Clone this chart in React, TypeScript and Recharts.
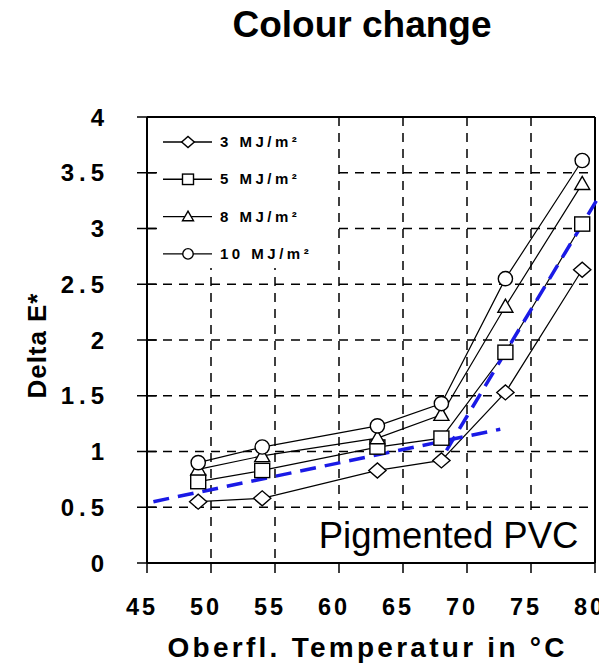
import React from 'react';
import {
  LineChart,
  Line,
  XAxis,
  YAxis,
  CartesianGrid,
  ReferenceLine,
  ReferenceArea,
  Legend,
} from 'recharts';

// Surface temperature (°C) of the test specimens
const temperatures = [49, 54, 63, 68, 73, 79];

// Delta E* colour difference per radiant exposure
const dose3 = [0.55, 0.58, 0.83, 0.92, 1.53, 2.63];
const dose5 = [0.73, 0.83, 1.04, 1.12, 1.89, 3.04];
const dose8 = [0.84, 0.96, 1.12, 1.33, 2.3, 3.4];
const dose10 = [0.9, 1.04, 1.23, 1.43, 2.55, 3.61];

const seriesNames = ['3 MJ/m²', '5 MJ/m²', '8 MJ/m²', '10 MJ/m²'];
const seriesShapes = ['diamond', 'square', 'triangle', 'circle'];
const seriesKeys = ['d3', 'd5', 'd8', 'd10'];

const xTicks = [45, 50, 55, 60, 65, 70, 75, 80];
const yTicks = [0, 0.5, 1, 1.5, 2, 2.5, 3, 3.5, 4];

// Two trend lines marking the change in slope
const trendLow = [
  { x: 45.5, y: 0.55 },
  { x: 72.6, y: 1.2 },
];
const trendHigh = [
  { x: 68.4, y: 1.01 },
  { x: 81, y: 3.42 },
];

const rows = temperatures.map((t, i) => ({
  t,
  d3: dose3[i],
  d5: dose5[i],
  d8: dose8[i],
  d10: dose10[i],
}));

const FONT = '"Liberation Sans", Arial, sans-serif';
const BLUE = '#1a1ae6';

type MarkerProps = { shape: string; cx: number; cy: number; s: number };

function Marker({ shape, cx, cy, s }: MarkerProps) {
  const common = { fill: '#fff', stroke: '#000', strokeWidth: 1.4 };
  if (shape === 'diamond') {
    const w = s * 1.15;
    return (
      <polygon
        points={`${cx - w},${cy} ${cx},${cy - s} ${cx + w},${cy} ${cx},${cy + s}`}
        {...common}
      />
    );
  }
  if (shape === 'square') {
    return <rect x={cx - s} y={cy - s * 0.95} width={2 * s} height={1.9 * s} {...common} />;
  }
  if (shape === 'triangle') {
    return (
      <polygon
        points={`${cx},${cy - s} ${cx + s},${cy + s * 0.75} ${cx - s},${cy + s * 0.75}`}
        {...common}
      />
    );
  }
  return <circle cx={cx} cy={cy} r={s * 0.95} {...common} />;
}

const makeDot = (shape: string) => (props: any) => {
  const { cx, cy, index } = props;
  if (cx == null || cy == null) return <g key={`${shape}-${index}`} />;
  return (
    <g key={`${shape}-${index}`}>
      <Marker shape={shape} cx={cx} cy={cy} s={7.5} />
    </g>
  );
};

const XTick = (props: any) => {
  const { x, y, payload } = props;
  return (
    <text
      x={x - 5}
      y={y + 40}
      textAnchor="middle"
      fontFamily={FONT}
      fontWeight="bold"
      fontSize={23.5}
      letterSpacing={3}
      fill="#000"
    >
      {payload.value}
    </text>
  );
};

// Tick labels on the value axis, plus the short inner half of each tick mark
const YTick = (props: any) => {
  const { x, y, payload } = props;
  return (
    <g>
      <line x1={x + 10} x2={x + 20} y1={y} y2={y} stroke="#000" strokeWidth={1.5} />
      <text
        x={x - 28}
        y={y + 8.5}
        textAnchor="end"
        fontFamily={FONT}
        fontWeight="bold"
        fontSize={24}
        letterSpacing={5}
        fill="#000"
      >
        {payload.value}
      </text>
    </g>
  );
};

const XTitle = (props: any) => {
  const { viewBox } = props;
  return (
    <text
      x={viewBox.x + viewBox.width / 2 - 5}
      y={viewBox.y + 94}
      textAnchor="middle"
      fontFamily={FONT}
      fontWeight="bold"
      fontSize={28}
      textLength={397}
      lengthAdjust="spacing"
      fill="#000"
    >
      Oberfl. Temperatur in °C
    </text>
  );
};

const YTitle = (props: any) => {
  const { viewBox } = props;
  const cx = viewBox.x + 29;
  const cy = viewBox.y + viewBox.height / 2 + 6;
  return (
    <text
      x={cx}
      y={cy}
      transform={`rotate(-90 ${cx} ${cy})`}
      textAnchor="middle"
      dominantBaseline="central"
      fontFamily={FONT}
      fontWeight="bold"
      fontSize={26}
      textLength={105}
      lengthAdjust="spacing"
      fill="#000"
    >
      Delta E*
    </text>
  );
};

const PvcLabel = (props: any) => {
  const { viewBox } = props;
  return (
    <text
      x={viewBox.x + viewBox.width - 14}
      y={viewBox.y + viewBox.height - 12}
      textAnchor="end"
      fontFamily={FONT}
      fontSize={36.5}
      fill="#000"
    >
      Pigmented PVC
    </text>
  );
};

const LegendBox = () => (
  <svg width={178} height={150} style={{ display: 'block' }}>
    <rect x={0} y={0} width={178} height={150} fill="#fff" />
    {seriesNames.map((name, i) => {
      const cy = 24 + i * 37.3;
      return (
        <g key={name}>
          <line x1={5} x2={54} y1={cy} y2={cy} stroke="#000" strokeWidth={1.4} />
          <Marker shape={seriesShapes[i]} cx={30} cy={cy} s={5.5} />
          <text
            x={62}
            y={cy + 5}
            fontFamily={FONT}
            fontWeight="bold"
            fontSize={15}
            letterSpacing={3.5}
            fill="#000"
          >
            {name}
          </text>
        </g>
      );
    })}
  </svg>
);

export default function App() {
  return (
    <div style={{ position: 'relative', width: 599, height: 657 }}>
      <div
        style={{
          position: 'absolute',
          left: 354,
          top: -2,
          transform: 'translateX(-50%)',
          whiteSpace: 'nowrap',
          fontFamily: FONT,
          fontWeight: 'bold',
          fontSize: 37,
          lineHeight: '37px',
          color: '#000',
        }}
      >
        Colour change
      </div>
      <LineChart
        width={599}
        height={657}
        data={rows}
        margin={{ top: 109, right: 12, bottom: 0, left: 0 }}
      >
        <CartesianGrid stroke="#000" strokeWidth={1.5} strokeDasharray="9 7" />
        <XAxis
          dataKey="t"
          type="number"
          domain={[45, 80]}
          ticks={xTicks}
          height={102}
          axisLine={{ stroke: '#000', strokeWidth: 2 }}
          tickLine={{ stroke: '#000', strokeWidth: 1.5 }}
          tickSize={10}
          tickMargin={2}
          tick={XTick}
          label={{ content: XTitle }}
        />
        <YAxis
          type="number"
          domain={[0, 4]}
          ticks={yTicks}
          width={139}
          axisLine={{ stroke: '#000', strokeWidth: 2 }}
          tickLine={{ stroke: '#000', strokeWidth: 1.5 }}
          tickSize={10}
          tickMargin={0}
          tick={YTick}
          label={{ content: YTitle }}
        />
        <ReferenceArea
          x1={58}
          x2={79.8}
          y1={0.03}
          y2={0.47}
          fill="#fff"
          fillOpacity={1}
          stroke="none"
          label={{ content: PvcLabel }}
        />
        <ReferenceLine y={4} stroke="#000" strokeWidth={2} />
        <ReferenceLine x={80} stroke="#000" strokeWidth={2} />
        {seriesKeys.map((key, i) => (
          <Line
            key={key}
            dataKey={key}
            name={seriesNames[i]}
            type="linear"
            stroke="#000"
            strokeWidth={1.2}
            dot={makeDot(seriesShapes[i])}
            activeDot={false}
            isAnimationActive={false}
          />
        ))}
        <ReferenceLine
          segment={trendLow}
          ifOverflow="visible"
          stroke={BLUE}
          strokeWidth={3.5}
          strokeDasharray="16 9"
        />
        <ReferenceLine
          segment={trendHigh}
          ifOverflow="visible"
          stroke={BLUE}
          strokeWidth={3.5}
          strokeDasharray="16 9"
        />
        <Legend
          layout="vertical"
          align="center"
          verticalAlign="middle"
          content={LegendBox}
          wrapperStyle={{ left: 150, top: 110, width: 178, height: 150 }}
        />
      </LineChart>
    </div>
  );
}
